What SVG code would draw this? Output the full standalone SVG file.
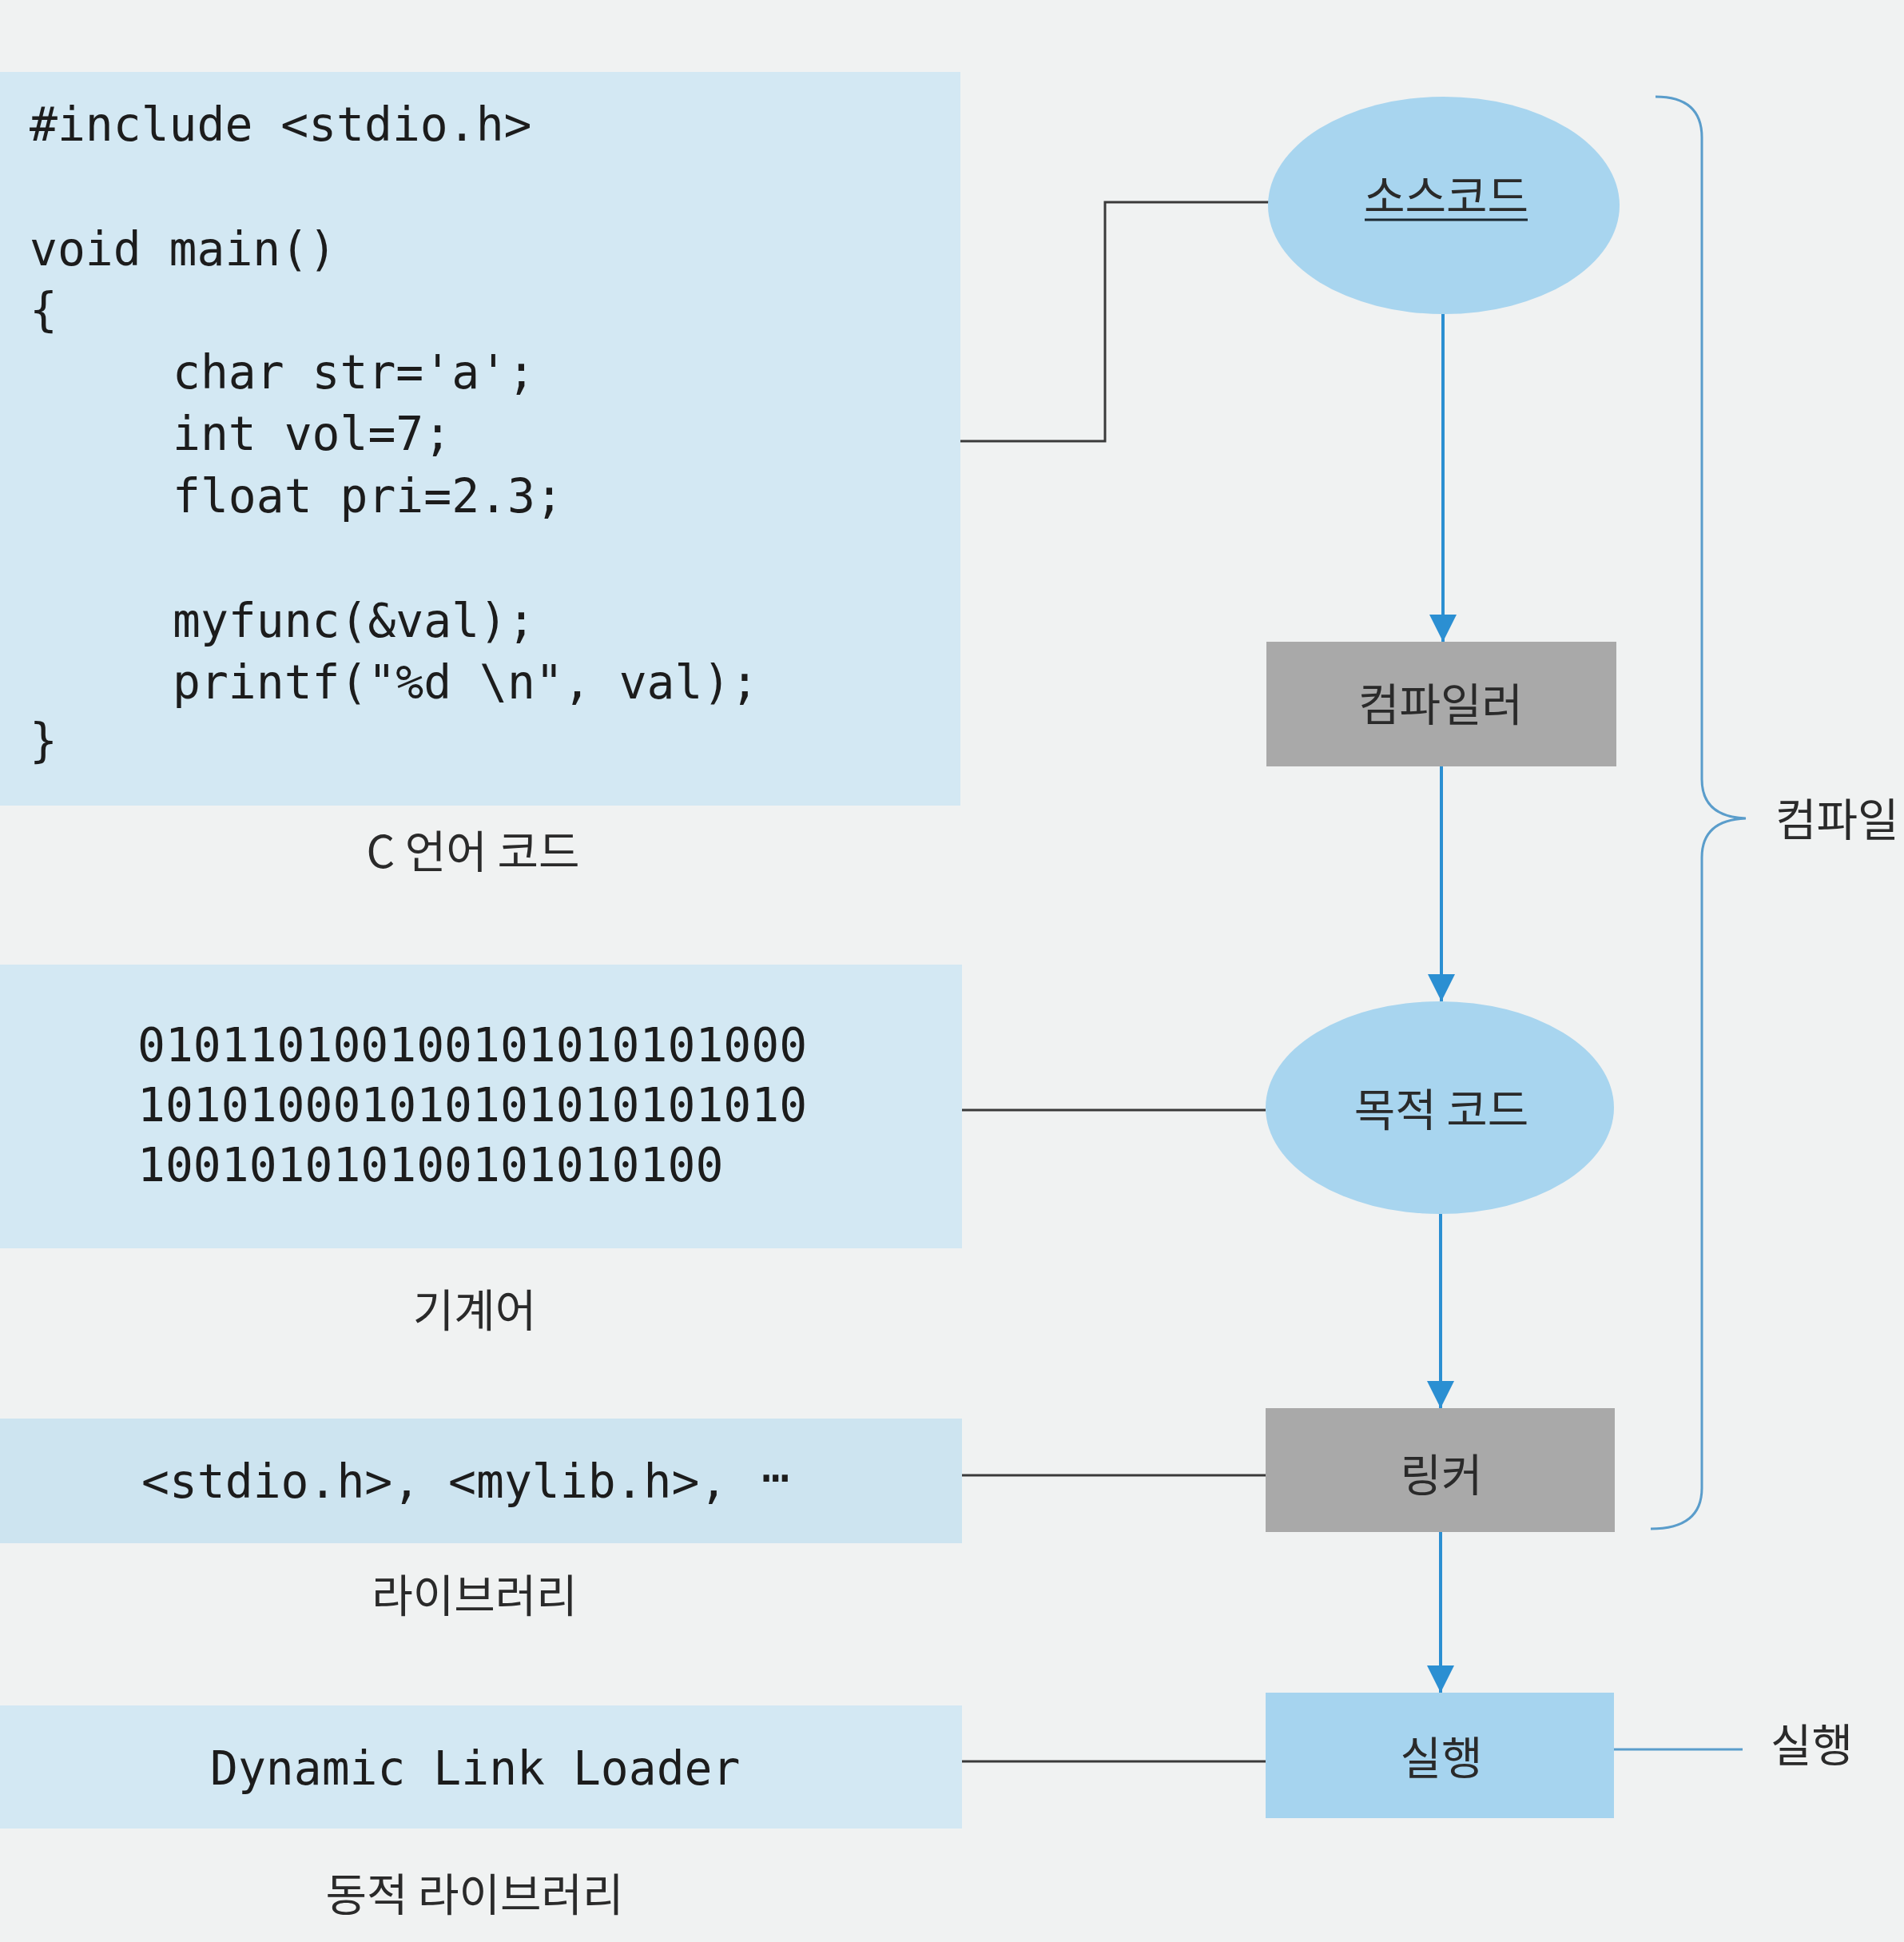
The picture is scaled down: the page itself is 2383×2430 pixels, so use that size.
<svg xmlns="http://www.w3.org/2000/svg" width="2383" height="2430" viewBox="0 0 2383 2430">
  <style>
    .code { font-family: "DejaVu Sans Mono", "Liberation Mono", monospace; font-size: 58px; fill: #1c1c1c; }
    .kr { font-family: "Noto Sans CJK KR", "Noto Sans", sans-serif; font-size: 56px; fill: #2a2a2a; }
    .panel { fill: #d3e8f3; }
    .ell { fill: #a8d5ef; }
    .gray { fill: #a9a9a9; }
    .run { fill: #a6d4ef; }
    .dark { fill: none; stroke: #3a3a3a; stroke-width: 3; }
    .flow { fill: none; stroke: #2b8fd2; stroke-width: 4; }
    .thin { fill: none; stroke: #5a9dcb; stroke-width: 3; }
  </style>
  <defs>
    <marker id="ah" viewBox="0 0 10 10" refX="10" refY="5" markerUnits="userSpaceOnUse" markerWidth="36" markerHeight="34" orient="auto">
      <path d="M0,0 L10,5 L0,10 Z" fill="#2b8fd2"/>
    </marker>
  </defs>

  <rect x="0" y="0" width="2383" height="2430" fill="#f0f2f2"/>

  <!-- left panels -->
  <g id="c-code">
    <rect class="panel" x="0" y="90" width="1202" height="918"/>
    <text class="code" x="37" y="176">#include &lt;stdio.h&gt;</text>
    <text class="code" x="37" y="332">void main()</text>
    <text class="code" x="37" y="408">{</text>
    <text class="code" x="216" y="486">char str='a';</text>
    <text class="code" x="216" y="563">int vol=7;</text>
    <text class="code" x="216" y="641">float pri=2.3;</text>
    <text class="code" x="216" y="797">myfunc(&amp;val);</text>
    <text class="code" x="216" y="874">printf("%d \n", val);</text>
    <text class="code" x="37" y="947">}</text>
    <text class="kr" x="592" y="1086" text-anchor="middle">C 언어 코드</text>
  </g>

  <g id="machine-code">
    <rect class="panel" x="0" y="1207" width="1204" height="355"/>
    <text class="code" x="172" y="1328">010110100100101010101000</text>
    <text class="code" x="172" y="1403">101010001010101010101010</text>
    <text class="code" x="172" y="1478">100101010100101010100</text>
    <text class="kr" x="594" y="1660" text-anchor="middle">기계어</text>
  </g>

  <g id="library">
    <rect class="panel" x="0" y="1775" width="1204" height="156" style="fill:#cde4f0"/>
    <text class="code" x="177" y="1874">&lt;stdio.h&gt;, &lt;mylib.h&gt;, <tspan dx="8" dy="-20">…</tspan></text>
    <text class="kr" x="594" y="2017" text-anchor="middle">라이브러리</text>
  </g>

  <g id="dynamic-library">
    <rect class="panel" x="0" y="2134" width="1204" height="154"/>
    <text class="code" x="263" y="2233">Dynamic Link Loader</text>
    <text class="kr" x="594" y="2391" text-anchor="middle">동적 라이브러리</text>
  </g>

  <!-- connectors -->
  <g id="connectors">
    <path class="dark" d="M1202,552 H1383 V253 H1590"/>
    <path class="dark" d="M1204,1389 H1584"/>
    <path class="dark" d="M1204,1846 H1584"/>
    <path class="dark" d="M1204,2204 H1584"/>
    <path class="flow" d="M1806,392 V803" marker-end="url(#ah)"/>
    <path class="flow" d="M1804,959 V1253" marker-end="url(#ah)"/>
    <path class="flow" d="M1803,1519 V1762" marker-end="url(#ah)"/>
    <path class="flow" d="M1803,1917 V2118" marker-end="url(#ah)"/>
    <path class="thin" d="M2020,2189 H2181"/>
    <path class="thin" d="M2072,121 Q2130,121 2130,172 V975 Q2130,1022 2185,1024 Q2130,1026 2130,1073 V1862 Q2130,1913 2066,1913"/>
  </g>

  <!-- flow nodes -->
  <g id="source-code">
    <ellipse class="ell" cx="1807" cy="257" rx="220" ry="136"/>
    <text class="kr" x="1810" y="266" text-anchor="middle">소스코드</text>
    <line x1="1708" y1="275" x2="1912" y2="275" stroke="#1c2a33" stroke-width="3"/>
  </g>

  <g id="compiler">
    <rect class="gray" x="1585" y="803" width="438" height="156"/>
    <text class="kr" x="1803" y="902" text-anchor="middle">컴파일러</text>
  </g>

  <g id="object-code">
    <ellipse class="ell" cx="1802" cy="1386" rx="218" ry="133"/>
    <text class="kr" x="1804" y="1409" text-anchor="middle">목적 코드</text>
  </g>

  <g id="linker">
    <rect class="gray" x="1584" y="1762" width="437" height="155"/>
    <text class="kr" x="1804" y="1866" text-anchor="middle">링커</text>
  </g>

  <g id="execute">
    <rect class="run" x="1584" y="2118" width="436" height="157"/>
    <text class="kr" x="1804" y="2220" text-anchor="middle">실행</text>
  </g>

  <g id="label-compile">
    <text class="kr" x="2222" y="1046">컴파일</text>
  </g>

  <g id="label-execute">
    <text class="kr" x="2216" y="2204">실행</text>
  </g>
</svg>
